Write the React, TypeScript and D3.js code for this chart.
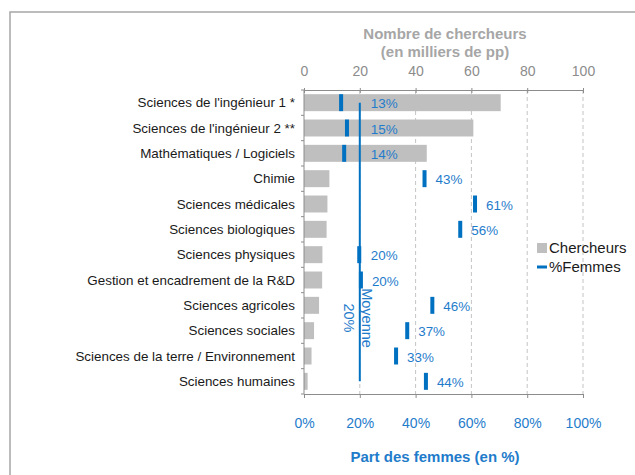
import React, { useRef, useEffect } from 'react';
import * as d3 from 'd3';

// Disciplines (du haut vers le bas)
const categories = [
    "Sciences de l'ingénieur 1 *",
    "Sciences de l'ingénieur 2 **",
    'Mathématiques / Logiciels',
    'Chimie',
    'Sciences médicales',
    'Sciences biologiques',
    'Sciences physiques',
    'Gestion et encadrement de la R&D',
    'Sciences agricoles',
    'Sciences sociales',
    'Sciences de la terre / Environnement',
    'Sciences humaines'
];
// Nombre de chercheurs, en milliers de pp
const chercheurs = [70.5, 60.7, 44, 9.1, 8.4, 8.1, 6.6, 6.5, 5.4, 3.6, 2.7, 1.3];
// Part des femmes, en %
const partFemmes = [13.3, 15.4, 14.4, 43.2, 61.3, 56, 19.8, 20.4, 46, 37, 33, 43.7];
const moyenneFemmes = 20;
const topTicks = [0, 20, 40, 60, 80, 100];
const bottomTicks = [0, 20, 40, 60, 80, 100];

const BLUE = '#0070c0';
const BLUE_TEXT = '#1f7ccb';
const GREY_BAR = '#bfbfbf';
const FONT = '"Liberation Sans", Arial, sans-serif';

const App = () => {
    const svgRef = useRef(null);
    const width = 635;
    const height = 475;
    const margin = { top: 90, right: 52, bottom: 81, left: 304 };

    useEffect(() => {
        const svg = d3.select(svgRef.current);
        svg.selectAll('*').remove();
        svg.style('font-family', FONT);

        const plotW = width - margin.left - margin.right;
        const plotH = height - margin.top - margin.bottom;

        // cadre
        svg.append('rect')
            .attr('x', 10).attr('y', 12)
            .attr('width', 640).attr('height', 480)
            .attr('fill', 'none')
            .attr('stroke', '#a6a6a6')
            .attr('stroke-width', 1.5);

        const g = svg.append('g')
            .attr('transform', 'translate(' + margin.left + ',' + margin.top + ')');

        const xN = d3.scaleLinear().domain([0, 100]).range([0, plotW]);
        const xP = d3.scaleLinear().domain([0, 100]).range([0, plotW]);
        const y = d3.scaleBand()
            .domain(categories)
            .range([0, plotH])
            .paddingInner(0.33)
            .paddingOuter(0.165);
        const yStep = d3.scaleBand().domain(categories).range([0, plotH]);

        // grille pointillée
        g.selectAll('.grid')
            .data(topTicks.filter(d => d > 0))
            .enter()
            .append('line')
                .attr('x1', d => xN(d)).attr('x2', d => xN(d))
                .attr('y1', 0).attr('y2', plotH)
                .attr('stroke', '#c4c4c4')
                .attr('stroke-dasharray', '4,3');

        // barres chercheurs
        g.selectAll('.bar')
            .data(chercheurs)
            .enter()
            .append('rect')
                .attr('x', 0)
                .attr('y', (d, i) => y(categories[i]))
                .attr('width', d => xN(d))
                .attr('height', y.bandwidth())
                .attr('fill', GREY_BAR);

        // axe haut
        const topAxis = g.append('g')
            .call(d3.axisTop(xN).tickValues(topTicks).tickSize(-3).tickPadding(14));
        topAxis.select('.domain').attr('stroke', '#8c8c8c');
        topAxis.selectAll('.tick line').attr('stroke', '#8c8c8c')
            .attr('y1', -2).attr('y2', 3);
        topAxis.selectAll('.tick text')
            .attr('fill', '#8c8c8c')
            .style('font-size', '14px')
            .style('font-family', FONT);

        // axe bas
        const bottomAxis = g.append('g')
            .attr('transform', 'translate(0,' + plotH + ')')
            .call(d3.axisBottom(xP).tickValues(bottomTicks).tickSize(4).tickPadding(20)
                .tickFormat(d => d + '%'));
        bottomAxis.select('.domain').attr('stroke', '#8c8c8c');
        bottomAxis.selectAll('.tick line').attr('stroke', '#8c8c8c');
        bottomAxis.selectAll('.tick text')
            .attr('fill', BLUE_TEXT)
            .style('font-size', '14px')
            .style('font-family', FONT);

        // axe gauche
        g.append('line')
            .attr('x1', 0).attr('x2', 0).attr('y1', 0).attr('y2', plotH)
            .attr('stroke', '#8c8c8c');
        g.selectAll('.ytick')
            .data(d3.range(categories.length + 1))
            .enter()
            .append('line')
                .attr('x1', -3).attr('x2', 0)
                .attr('y1', i => i * yStep.step()).attr('y2', i => i * yStep.step())
                .attr('stroke', '#8c8c8c');
        g.selectAll('.ylabel')
            .data(categories)
            .enter()
            .append('text')
                .attr('x', -9)
                .attr('y', d => y(d) + y.bandwidth() / 2)
                .attr('dy', '0.35em')
                .attr('text-anchor', 'end')
                .attr('fill', '#1a1a1a')
                .style('font-size', '13.4px')
                .text(d => d);

        // ligne moyenne
        g.append('line')
            .attr('x1', xP(moyenneFemmes)).attr('x2', xP(moyenneFemmes))
            .attr('y1', y(categories[0]) + y.bandwidth() / 2)
            .attr('y2', y(categories[categories.length - 1]) + y.bandwidth() / 2)
            .attr('stroke', BLUE)
            .attr('stroke-width', 2);
        const moy = g.append('text')
            .attr('transform', 'translate(' + (xP(moyenneFemmes) - 2) + ',' + (318 - margin.top) + ') rotate(90)')
            .attr('text-anchor', 'middle')
            .attr('fill', BLUE_TEXT)
            .style('font-size', '14.5px');
        moy.append('tspan').attr('x', 0).attr('dy', '-0.28em').text('Moyenne');
        moy.append('tspan').attr('x', 0).attr('dy', '1.25em').text(moyenneFemmes + '%');

        // marqueurs part des femmes
        g.selectAll('.femmes')
            .data(partFemmes)
            .enter()
            .append('rect')
                .attr('x', d => xP(d) - 2)
                .attr('y', (d, i) => y(categories[i]))
                .attr('width', 4)
                .attr('height', y.bandwidth())
                .attr('fill', BLUE);
        g.selectAll('.femmesLabel')
            .data(partFemmes)
            .enter()
            .append('text')
                .attr('x', d => xP(Math.max(d, moyenneFemmes)) + 11)
                .attr('y', (d, i) => y(categories[i]) + y.bandwidth() / 2 + 1)
                .attr('dy', '0.35em')
                .attr('fill', BLUE_TEXT)
                .style('font-size', '13.4px')
                .text(d => Math.round(d) + '%');

        // titres d'axes
        svg.append('text')
            .attr('x', 445).attr('y', 34)
            .attr('dy', '0.35em')
            .attr('text-anchor', 'middle')
            .attr('fill', '#a6a6a6')
            .style('font-size', '15px')
            .style('font-weight', 'bold')
            .text('Nombre de chercheurs');
        svg.append('text')
            .attr('x', 445).attr('y', 52)
            .attr('dy', '0.35em')
            .attr('text-anchor', 'middle')
            .attr('fill', '#a6a6a6')
            .style('font-size', '15px')
            .style('font-weight', 'bold')
            .text('(en milliers de pp)');
        svg.append('text')
            .attr('x', 435).attr('y', 457)
            .attr('dy', '0.35em')
            .attr('text-anchor', 'middle')
            .attr('fill', BLUE_TEXT)
            .style('font-size', '15px')
            .style('font-weight', 'bold')
            .text('Part des femmes (en %)');

        // légende
        const legend = svg.append('g').attr('transform', 'translate(537,248)');
        legend.append('rect')
            .attr('x', 0).attr('y', -5)
            .attr('width', 10).attr('height', 10)
            .attr('fill', GREY_BAR);
        legend.append('text')
            .attr('x', 12).attr('y', 0).attr('dy', '0.35em')
            .attr('fill', '#1a1a1a')
            .style('font-size', '15px')
            .text('Chercheurs');
        legend.append('line')
            .attr('x1', 0).attr('x2', 10).attr('y1', 19).attr('y2', 19)
            .attr('stroke', BLUE).attr('stroke-width', 3);
        legend.append('text')
            .attr('x', 12).attr('y', 19).attr('dy', '0.35em')
            .attr('fill', '#1a1a1a')
            .style('font-size', '15px')
            .text('%Femmes');
    // eslint-disable-next-line
    }, []);

    return (
        <svg ref={svgRef} width={width} height={height}
            style={{ position: 'absolute', left: 0, top: 0, background: '#fff' }}>
        </svg>
    );
};

export default App;
